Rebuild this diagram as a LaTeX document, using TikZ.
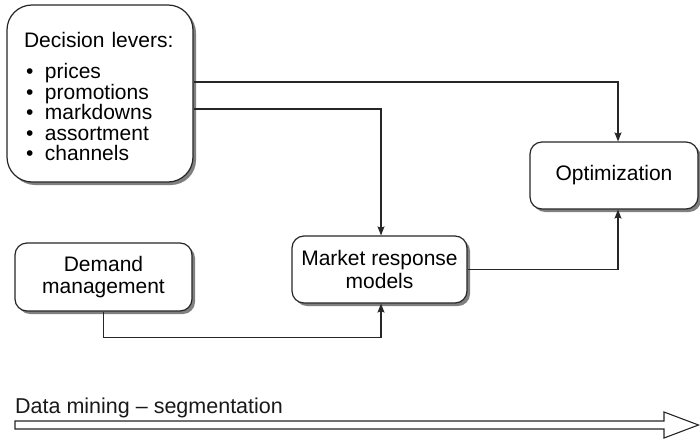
\documentclass[tikz,border=0pt]{standalone}
\usepackage{fontspec}
\setmainfont{Liberation Sans}
\usetikzlibrary{shadows,arrows.meta}
\begin{document}
\begin{tikzpicture}[x=1pt,y=-1pt,
  box/.style={draw=black!85, line width=1.2pt, rounded corners=12pt, fill=white,
    drop shadow={shadow xshift=3pt, shadow yshift=-3pt, fill=black!50, opacity=1},
    align=center, inner sep=0pt, font=\fontsize{21}{22.5}\selectfont},
  conn/.style={draw=black!85, line width=1.2pt, -{Stealth[length=9pt,width=7pt,inset=1.5pt]}},
  bigarrow/.style={draw=black!85, line width=1.1pt, fill=white, line join=miter},
  lbl/.style={font=\fontsize{21.5}{24}\selectfont, inner sep=0pt, text=black!90}
]
\useasboundingbox (0,0) rectangle (700,439);

% boxes
\node[box, rounded corners=25pt, minimum width=186pt, minimum height=177pt,
      text width=152pt, align=left] (dec) at (100,93.5)
  {\rule{0pt}{21pt}Decision levers:\\[9pt]
   \hspace*{2pt}\makebox[19pt][l]{•}prices\\[-2pt]
   \hspace*{2pt}\makebox[19pt][l]{•}promotions\\[-2pt]
   \hspace*{2pt}\makebox[19pt][l]{•}markdowns\\[-2pt]
   \hspace*{2pt}\makebox[19pt][l]{•}assortment\\[-2pt]
   \hspace*{2pt}\makebox[19pt][l]{•}channels};

\node[box, minimum width=177pt, minimum height=68pt] (dem) at (103.5,277)
  {Demand\\management};
\node[box, minimum width=175pt, minimum height=67pt] (mkt) at (379.5,269.5)
  {Market response\\models};
\node[box, minimum width=168pt, minimum height=67pt] (opt) at (614,175.5)
  {Optimization};

% helper coordinates
\coordinate (r82) at (0,82);
\coordinate (r109) at (0,109);

% connectors
\draw[conn] (dec.east |- r82) -| ([xshift=4pt]opt.north);
\draw[conn] (dec.east |- r109) -| ([xshift=1.5pt]mkt.north);
\draw[conn] (dem.south) -- ++(0,26) -| ([xshift=1.5pt]mkt.south);
\draw[conn] (mkt.east) -| ([xshift=4pt]opt.south);

% bottom label and big arrow
\node[lbl, anchor=base west] (dm) at (15,413) {Data mining – segmentation};
\draw[bigarrow] (15,421) -- (664,421) -- (664,412) -- (698.5,425) -- (664,438)
  -- (664,429) -- (15,429) -- cycle;
\end{tikzpicture}
\end{document}
